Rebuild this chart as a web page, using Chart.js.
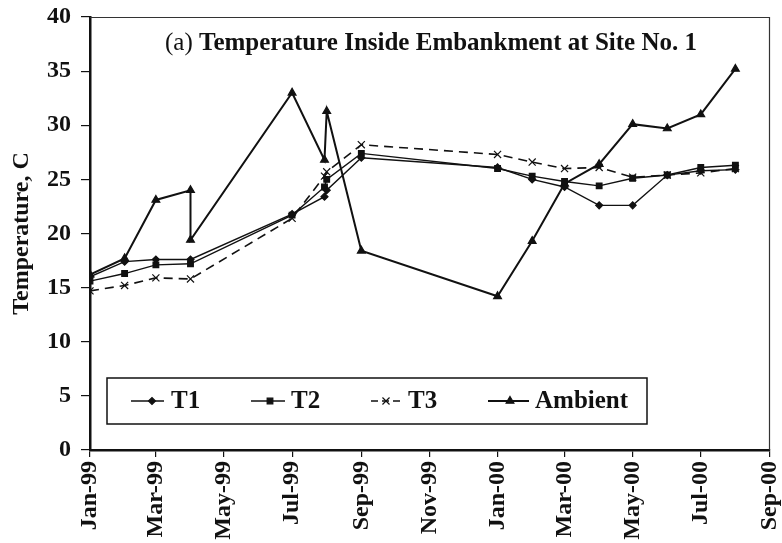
<!DOCTYPE html>
<html>
<head>
<meta charset="utf-8">
<script src="https://cdn.jsdelivr.net/npm/chart.js@4/dist/chart.umd.min.js"></script>
<style>
html,body{margin:0;padding:0;background:#fff;}
#wrap{width:782px;height:543px;position:relative;}
</style>
</head>
<body>
<div id="wrap"><canvas id="c" width="782" height="543"></canvas></div>
<script>
// ---- data ----
const tickDates = ['1999-01-01','1999-03-01','1999-05-01','1999-07-01','1999-09-01','1999-11-01','2000-01-01','2000-03-01','2000-05-01','2000-07-01','2000-09-01'];
const tickLabels = ['Jan-99','Mar-99','May-99','Jul-99','Sep-99','Nov-99','Jan-00','Mar-00','May-00','Jul-00','Sep-00'];
const yTicks = [0,5,10,15,20,25,30,35,40];

const tDates = ['1999-01-01','1999-02-01','1999-03-01','1999-04-01','1999-07-01','1999-07-30','1999-08-01','1999-09-01','2000-01-01','2000-02-01','2000-03-01','2000-04-01','2000-05-01','2000-06-01','2000-07-01','2000-08-01'];
const t1 = [16.0, 17.4, 17.6, 17.6, 21.8, 23.4, 24.0, 27.0, 26.1, 25.0, 24.3, 22.6, 22.6, 25.4, 25.8, 25.9];
const t2 = [15.6, 16.3, 17.1, 17.2, 21.7, 24.3, 25.0, 27.4, 26.0, 25.3, 24.8, 24.4, 25.1, 25.4, 26.1, 26.3];
const t3 = [14.7, 15.2, 15.9, 15.8, 21.4, 25.3, 25.7, 28.2, 27.3, 26.6, 26.0, 26.1, 25.2, 25.4, 25.6, 26.0];

const ambientDates = ['1999-01-01','1999-02-01','1999-03-01','1999-04-01','1999-04-01','1999-07-01','1999-07-30','1999-08-01','1999-09-01','2000-01-01','2000-02-01','2000-03-01','2000-04-01','2000-05-01','2000-06-01','2000-07-01','2000-08-01'];
const ambient = [16.2, 17.7, 23.1, 24.0, 19.4, 33.0, 26.8, 31.3, 18.4, 14.2, 19.3, 24.6, 26.4, 30.1, 29.7, 31.0, 35.2];

const seriesNames = ['T1','T2','T3','Ambient'];
const titleA = '(a)';
const titleB = 'Temperature Inside Embankment at Site No. 1';
const yTitle = 'Temperature, C';

// ---- helpers ----
const origin = Date.UTC(1999,0,1);
const toDay = s => (Date.UTC(+s.slice(0,4), +s.slice(5,7)-1, +s.slice(8,10)) - origin) / 86400000;
const pts = (dates, vals) => dates.map((d,i) => ({x: toDay(d), y: vals[i]}));

const SERIF = "'Liberation Serif', 'Times New Roman', serif";
const INK = '#111';

const styles = [
  {pointStyle:'rectRot', pointRadius:3.5, borderWidth:1.4, borderDash:[]},
  {pointStyle:'rect', pointRadius:4, borderWidth:1.4, borderDash:[]},
  {pointStyle:'crossRot', pointRadius:5, borderWidth:1.6, borderDash:[9,6]},
  {pointStyle:'triangle', pointRadius:4.5, borderWidth:2, borderDash:[]}
];
const seriesData = [pts(tDates,t1), pts(tDates,t2), pts(tDates,t3), pts(ambientDates,ambient)];

const datasets = seriesNames.map((n,i) => ({
  label: n,
  data: seriesData[i],
  borderColor: INK,
  backgroundColor: INK,
  pointBackgroundColor: INK,
  pointBorderColor: INK,
  pointBorderWidth: 1.2,
  borderWidth: styles[i].borderWidth,
  borderDash: styles[i].borderDash,
  pointStyle: styles[i].pointStyle,
  pointRadius: styles[i].pointRadius,
  tension: 0,
  fill: false
}));

const noPad = s => { s.paddingTop = 0; s.paddingBottom = 0; s.paddingLeft = 0; s.paddingRight = 0; };

const decor = {
  id: 'decor',
  afterDraw(chart) {
    const ctx = chart.ctx, a = chart.chartArea;
    ctx.save();
    // top & right frame
    ctx.strokeStyle = '#333'; ctx.lineWidth = 1.2;
    ctx.beginPath();
    ctx.moveTo(a.left, a.top + 0.5); ctx.lineTo(a.right - 0.5, a.top + 0.5); ctx.lineTo(a.right - 0.5, a.bottom);
    ctx.stroke();
    // title
    ctx.fillStyle = INK; ctx.textBaseline = 'alphabetic'; ctx.textAlign = 'left';
    ctx.font = 'normal 25px ' + SERIF;
    const wa = ctx.measureText(titleA + ' ').width;
    ctx.font = 'bold 25px ' + SERIF;
    const wb = ctx.measureText(titleB).width;
    const cx = a.left + 341, by = a.top + 33;
    let x0 = cx - (wa + wb) / 2;
    ctx.font = 'normal 25px ' + SERIF;
    ctx.fillText(titleA, x0, by);
    ctx.font = 'bold 25px ' + SERIF;
    ctx.fillText(titleB, x0 + wa, by);
    // legend
    const L = {x: a.left + 17, y: 378, w: 540, h: 46};
    ctx.lineWidth = 1.5; ctx.strokeStyle = INK; ctx.setLineDash([]);
    ctx.strokeRect(L.x, L.y, L.w, L.h);
    const items = [
      {x1: 131, x2: 164, mx: 152, tx: 171},
      {x1: 251, x2: 285, mx: 270, tx: 291},
      {x1: 371, x2: 404, mx: 386, tx: 408},
      {x1: 488, x2: 529, mx: 510, tx: 535}
    ];
    const cy = L.y + L.h / 2;
    items.forEach((it, i) => {
      const st = styles[i];
      ctx.save();
      ctx.strokeStyle = INK; ctx.lineWidth = st.borderWidth;
      ctx.setLineDash(st.borderDash.length ? [7,4] : []);
      ctx.beginPath(); ctx.moveTo(it.x1, cy); ctx.lineTo(it.x2, cy); ctx.stroke();
      ctx.setLineDash([]);
      ctx.fillStyle = INK; ctx.lineWidth = 1.2;
      Chart.helpers.drawPoint(ctx, {pointStyle: st.pointStyle, radius: st.pointRadius, rotation: 0, borderWidth: 1.2}, it.mx, cy);
      ctx.restore();
      ctx.fillStyle = INK;
      ctx.font = 'bold 25px ' + SERIF;
      ctx.textBaseline = 'middle';
      ctx.fillText(seriesNames[i], it.tx, cy + 1);
    });
    ctx.restore();
  }
};

new Chart(document.getElementById('c'), {
  type: 'line',
  data: { datasets },
  options: {
    responsive: false,
    animation: false,
    layout: { padding: { top: 17, right: 12, left: 0, bottom: 0 } },
    plugins: { legend: { display: false }, title: { display: false }, tooltip: { enabled: false } },
    scales: {
      x: {
        type: 'linear',
        min: toDay(tickDates[0]),
        max: toDay(tickDates[tickDates.length - 1]),
        afterBuildTicks: s => { s.ticks = tickDates.map(d => ({ value: toDay(d) })); },
        afterFit: s => { s.height = 93; noPad(s); },
        ticks: {
          autoSkip: false, maxRotation: 90, minRotation: 90, padding: 4,
          color: INK,
          font: { family: SERIF, size: 24, weight: 'bold', lineHeight: 1 },
          callback: (v, i) => tickLabels[i]
        },
        grid: { display: true, drawOnChartArea: false, drawTicks: true, tickLength: 7, color: INK, lineWidth: 1.2 },
        border: { display: true, color: INK, width: 2.5 }
      },
      y: {
        min: 0, max: 40,
        afterBuildTicks: s => { s.ticks = yTicks.map(v => ({ value: v })); },
        afterFit: s => { s.width = 90; noPad(s); },
        ticks: {
          padding: 10, color: INK,
          font: { family: SERIF, size: 24, weight: 'bold', lineHeight: 1 },
          callback: (v) => String(v)
        },
        grid: { display: true, drawOnChartArea: false, drawTicks: true, tickLength: 9, color: INK, lineWidth: 1.2 },
        border: { display: true, color: INK, width: 2.5 },
        title: {
          display: true, text: yTitle, color: INK,
          font: { family: SERIF, size: 24, weight: 'bold', lineHeight: 1 },
          padding: { top: 10, bottom: 0 }
        }
      }
    }
  },
  plugins: [decor]
});
</script>
</body>
</html>
